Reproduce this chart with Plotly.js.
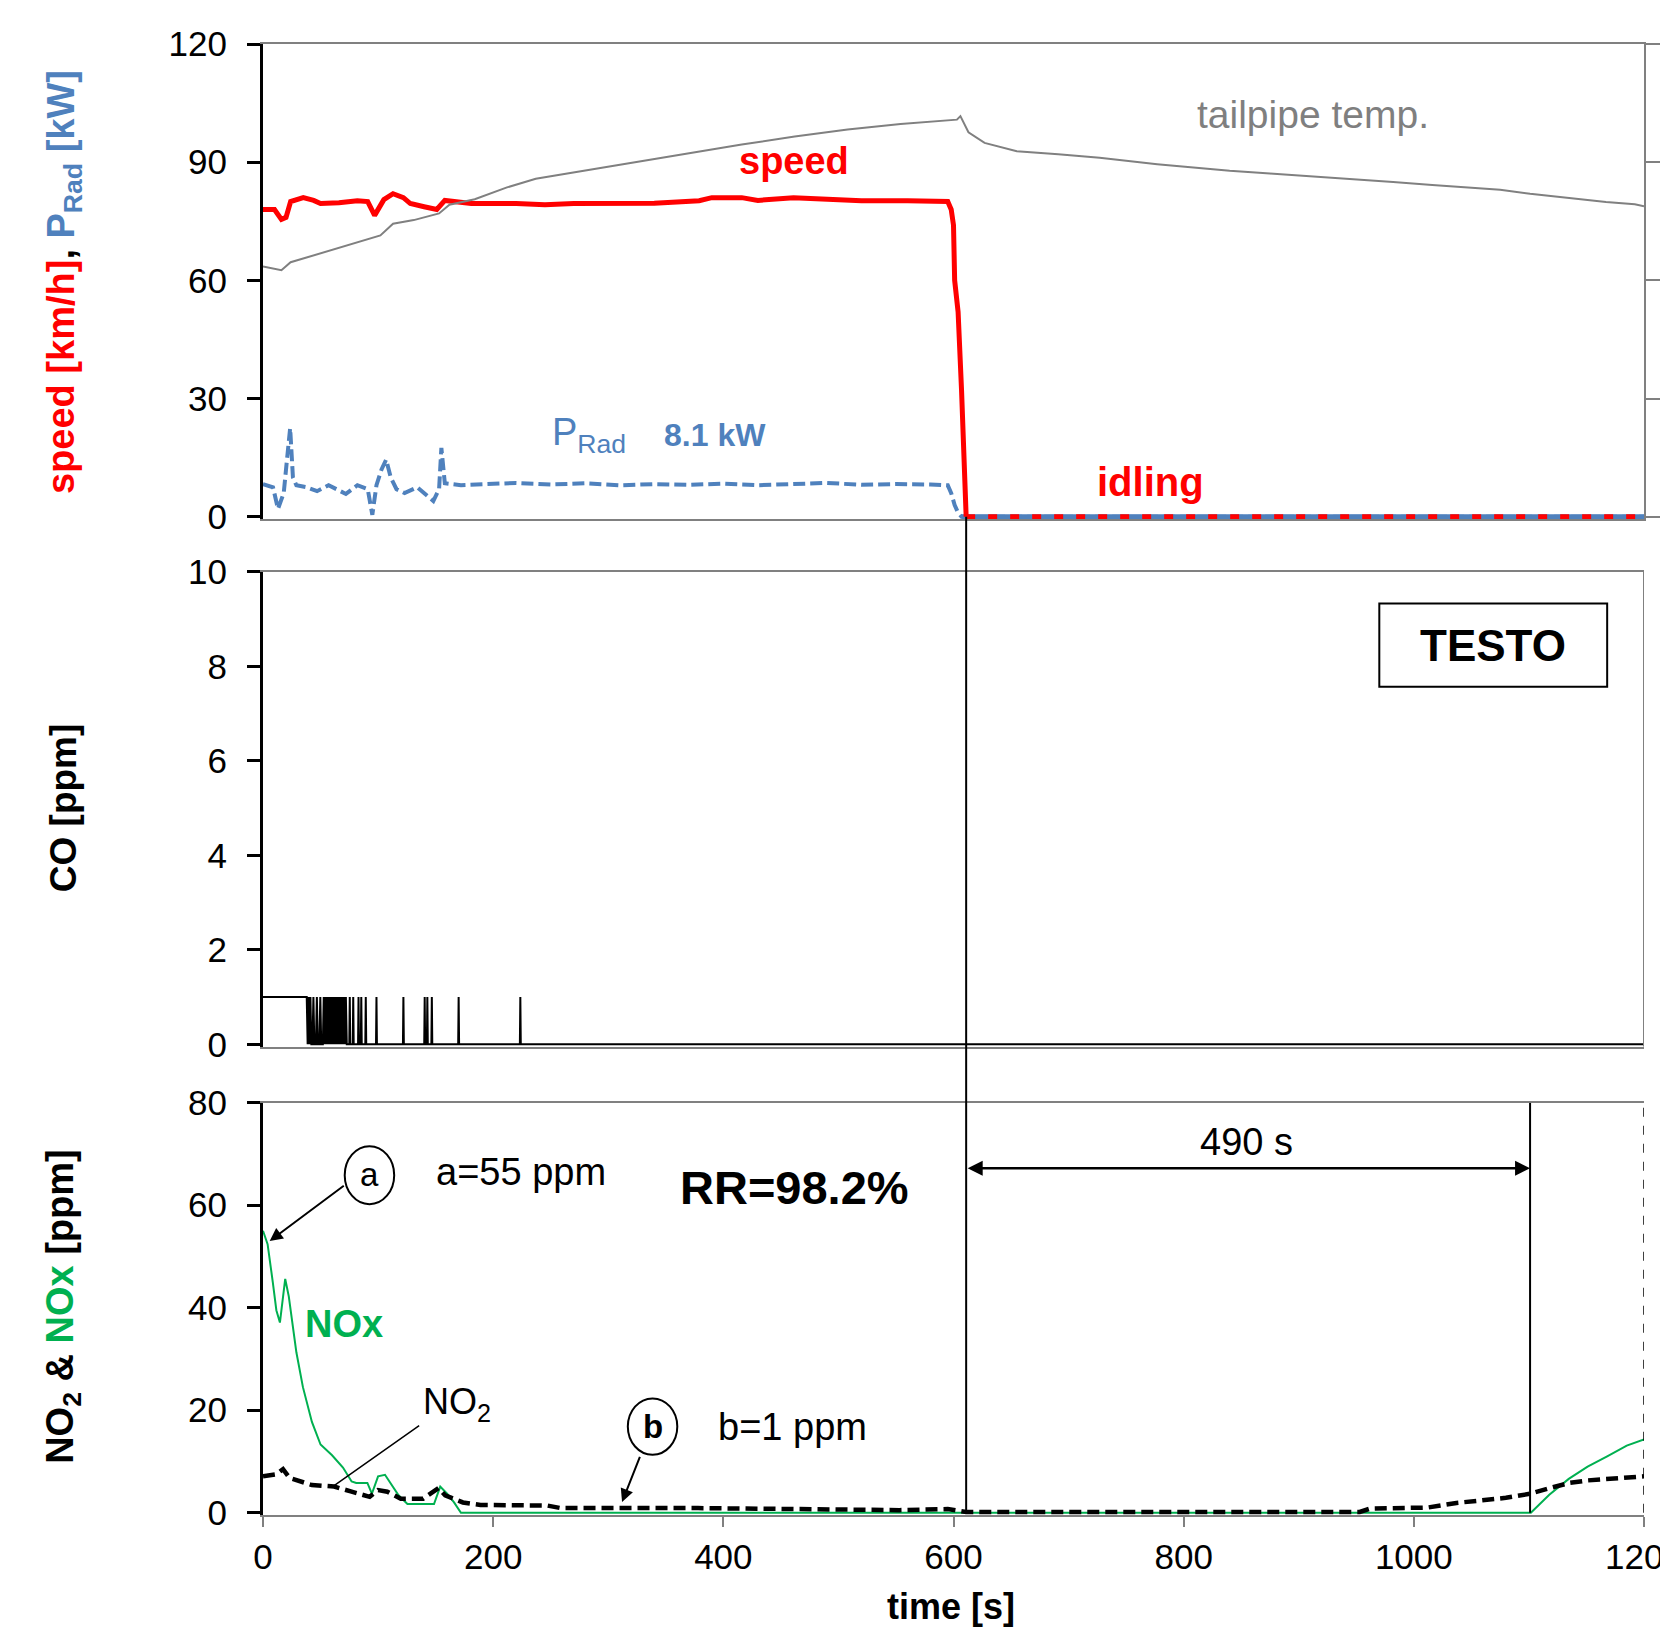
<!DOCTYPE html>
<html>
<head>
<meta charset="utf-8">
<script src="https://cdn.plot.ly/plotly-3.0.1.min.js"></script>
<style>html,body{margin:0;padding:0;background:#fff;}#chart{width:1660px;height:1628px;}</style>
</head>
<body>
<div id="chart"></div>
<script>
// ---- top panel: speed [km/h], PRad [kW], tailpipe temp ----
const speedT = [0,10,16,20,24,35,44,50,66,82,91,97,105,113,122,128,140,151,158,168,181,220,245,270,300,340,379,390,416,430,461,480,520,560,595,598,600,601,604,607,609,611,650,700,800,900,1000,1100,1200];
const speedV = [78,78,75.5,76,80,81,80.3,79.5,79.7,80.2,80,76.5,80.5,82,81,79.5,78.7,78,80.3,80,79.5,79.5,79.2,79.5,79.5,79.6,80.2,81,81,80.3,81,80.8,80.2,80.2,80,78,74,60,52,32,18,0,0,0,0,0,0,0,0];
const pradT = [0,8.7,13,18,21,23.6,26,29,38,47,57,64.5,72,82,91,95,98.6,103,107,111,116,123,134,148,153,155,158,172,190,220,250,280,310,340,370,400,430,460,490,520,550,580,595,598,601,604,607,650,700,800,900,1000,1100,1200];
const pradV = [8.3,7.5,2,6,15,22.5,10,8,7.5,6.5,8,7,5.8,8,7,0.5,8,12,14.5,10,7,6,7.5,4,7,17.5,8.5,8,8.3,8.6,8.2,8.5,8.0,8.3,8.1,8.4,8.0,8.2,8.6,8.1,8.3,8.2,8.0,6,3,1,0,0,0,0,0,0,0,0];
const tempT = [0,16,24,41,66,82,102,113,131,153,162,184,212,237,278,324,370,416,462,508,554,595,603,606,613,627,655,691,727,777,811,840,875,917,951,982,1016,1047,1075,1101,1122,1144,1167,1192,1200];
const tempV = [63.5,62.6,64.6,66.1,68.3,69.6,71.4,74.4,75.3,77,79.2,80.6,83.6,85.8,87.8,90,92.2,94.5,96.5,98.3,99.7,100.5,100.8,101.7,97.6,94.9,92.8,92,91.1,89.5,88.6,87.8,87.1,86.3,85.6,85,84.2,83.6,83,82,81.3,80.6,79.9,79.3,78.8];

// ---- middle panel: CO [ppm] ----
const coT = [0,38,38.8,39.6,40.4,41.2,42,43,43.8,44.6,46,46.8,47.6,49,49.8,50.6,52,52.8,53.6,54.4,55.2,56,56.8,57.6,58.4,59.2,60,60.8,61.6,62.4,63.2,64,64.8,65.6,66.4,67.2,68,68.8,69.6,70.4,71.2,72,72.8,75,75.4,75.8,78,78.4,78.8,82.6,83,83.4,85,85.4,85.8,88.9,89.3,89.7,98.2,98.6,99,121.6,122,122.4,140.1,140.5,140.9,142.4,142.8,143.2,146.3,146.7,147.1,169.6,170,170.4,223.2,223.6,224,1200];
const coV = [1,1,0,1,0,1,0,0,1,0,0,1,0,0,1,0,0,1,0,1,0,1,0,1,0,1,0,1,0,1,0,1,0,1,0,1,0,1,0,1,0,1,0,0,1,0,0,1,0,0,1,0,0,1,0,0,1,0,0,1,0,0,1,0,0,1,0,0,1,0,0,1,0,0,1,0,0,1,0,0];

// ---- bottom panel: NO2 & NOx [ppm] ----
const noxT = [0,4,8.5,11.6,14.7,17.4,19.3,22.4,25,29,34.7,42.5,50,60,69.5,77,81,90.7,94.6,100,106,112,117.8,125.5,148.6,154,160,166,172,1101.7,1117.7,1134.6,1151,1168,1185,1200];
const noxV = [55,52.4,45,39.5,37.1,42.2,45.6,42.2,38.1,31.3,24.5,17.7,13.3,11.2,8.8,6.1,5.8,5.8,3.7,7.1,7.4,5.4,3.4,1.7,1.7,5.1,3.7,2,0,0,3.5,6.6,9,11,13.1,14.3];
const no2T = [0,11.6,17.4,23,42.5,61.8,77,92.7,100,108,119.7,139,152.5,158.3,173.7,189,247,258.7,378,553,595,611,953,962,1012,1037,1080,1101,1118,1135,1151,1185,1200];
const no2V = [7.1,7.5,8.5,6.8,5.4,5.1,4.1,3.1,4.4,4.1,2.7,2.7,4.8,3.4,2,1.5,1.4,0.9,0.9,0.5,0.7,0.15,0.15,0.8,1,1.9,2.9,3.7,4.8,5.8,6.3,7,7.1];

// ---- ticks ----
const xTicks = [0,200,400,600,800,1000,1200];
const xTickText = ['0','200','400','600','800','1000','1200'];
const topTicks = [0,30,60,90,120];
const midTicks = [0,2,4,6,8,10];
const botTicks = [0,20,40,60,80];

// ---- markers in time ----
const idleStart = 611;
const recoveryEnd = 1101;

const RED = '#FF0000', BLUE = '#4F81BD', GREEN = '#00B050', GREY = '#808080';
const FONT = 'Liberation Sans, Arial, sans-serif';

const idleT = speedT.filter(t => t >= idleStart);
const idleV = speedV.filter((v, i) => speedT[i] >= idleStart);
const drvT = speedT.filter(t => t <= idleStart);
const drvV = speedV.filter((v, i) => speedT[i] <= idleStart);
const pradIdleT = pradT.filter(t => t >= 607);
const pradIdleV = pradV.filter((v, i) => pradT[i] >= 607);

const traces = [
  {x: tempT, y: tempV, xaxis: 'x3', yaxis: 'y4', mode: 'lines', line: {color: GREY, width: 2}},
  {x: pradT, y: pradV, xaxis: 'x3', yaxis: 'y3', mode: 'lines', line: {color: BLUE, width: 4, dash: '12px,5px'}},
  {x: pradIdleT, y: pradIdleV, xaxis: 'x3', yaxis: 'y3', mode: 'lines', line: {color: BLUE, width: 5}},
  {x: drvT, y: drvV, xaxis: 'x3', yaxis: 'y3', mode: 'lines', line: {color: RED, width: 5}},
  {x: idleT, y: idleV, xaxis: 'x3', yaxis: 'y3', mode: 'lines', line: {color: RED, width: 5, dash: '9px,13px'}},
  {x: coT, y: coV, xaxis: 'x2', yaxis: 'y2', mode: 'lines', line: {color: '#000', width: 2}},
  {x: noxT, y: noxV, xaxis: 'x', yaxis: 'y', mode: 'lines', line: {color: GREEN, width: 2}},
  {x: no2T, y: no2V, xaxis: 'x', yaxis: 'y', mode: 'lines', line: {color: '#000', width: 4.5, dash: '12px,6px'}}
];

const yBase = {ticks: 'outside', ticklen: 13, tickwidth: 3, tickcolor: '#000', ticklabelstandoff: 13, showline: true, linecolor: '#000', linewidth: 3, showgrid: false, zeroline: false, tickfont: {size: 35, color: '#000', family: FONT}, fixedrange: true};
const xBase = {range: [0, 1200], showline: true, mirror: true, linecolor: GREY, linewidth: 2, showgrid: false, zeroline: false, fixedrange: true};

const layout = {
  width: 1660, height: 1628,
  margin: {l: 263, r: 16, t: 44, b: 113},
  paper_bgcolor: '#fff', plot_bgcolor: '#fff',
  showlegend: false,
  font: {family: FONT, size: 34, color: '#000'},
  xaxis: Object.assign({}, xBase, {anchor: 'y', tickvals: xTicks, ticktext: xTickText, ticks: 'outside', ticklen: 10, tickwidth: 2, tickcolor: GREY, ticklabeloverflow: 'allow', tickfont: {size: 35, color: '#000', family: FONT}}),
  xaxis2: Object.assign({}, xBase, {anchor: 'y2', showticklabels: false, ticks: ''}),
  xaxis3: Object.assign({}, xBase, {anchor: 'y3', showticklabels: false, ticks: ''}),
  yaxis: Object.assign({}, yBase, {domain: [0, 0.2803], range: [-0.45, 80], tickvals: botTicks}),
  yaxis2: Object.assign({}, yBase, {domain: [0.3184, 0.6411], range: [-0.05, 10], tickvals: midTicks}),
  yaxis3: Object.assign({}, yBase, {domain: [0.6770, 1], range: [-0.6, 120], tickvals: topTicks}),
  yaxis4: {overlaying: 'y3', side: 'right', anchor: 'x3', range: [-0.6, 120], tickvals: topTicks, ticks: 'outside', ticklen: 14, tickwidth: 2, tickcolor: GREY, showline: true, linecolor: GREY, linewidth: 2, showticklabels: false, showgrid: false, zeroline: false, fixedrange: true},
  shapes: [
    {type: 'line', xref: 'x', yref: 'paper', x0: idleStart, x1: idleStart, y0: 0.0016, y1: 0.6787, line: {color: '#000', width: 2}},
    {type: 'line', xref: 'x', yref: 'y', x0: recoveryEnd, x1: recoveryEnd, y0: 0, y1: 80, line: {color: '#000', width: 2}},
    {type: 'line', xref: 'x', yref: 'y', x0: 1200, x1: 1200, y0: 0, y1: 80, line: {color: '#000', width: 1.5, dash: 'dash'}},
    {type: 'line', xref: 'x2', yref: 'y2', x0: 1200, x1: 1200, y0: -0.05, y1: 10, line: {color: GREY, width: 2}},
    {type: 'rect', xref: 'x2', yref: 'y2', x0: 970, x1: 1168, y0: 7.57, y1: 9.33, line: {color: '#000', width: 2}, fillcolor: '#fff'},
    {type: 'circle', xref: 'x', yref: 'y', x0: 71, x1: 114, y0: 60.2, y1: 71.5, line: {color: '#000', width: 2}},
    {type: 'circle', xref: 'x', yref: 'y', x0: 317, x1: 360, y0: 11.3, y1: 22.3, line: {color: '#000', width: 2}}
  ],
  annotations: [
    // axis titles
    {xref: 'paper', yref: 'paper', x: -0.1445, y: 0.8385, xanchor: 'center', yanchor: 'middle', textangle: -90, showarrow: false,
     text: "<b><span style='color:#FF0000'>speed [km/h]</span>, <span style='color:#4F81BD'>P<sub>Rad</sub> [kW]</span></b>", font: {size: 38, family: FONT}},
    {xref: 'paper', yref: 'paper', x: -0.1445, y: 0.4808, xanchor: 'center', yanchor: 'middle', textangle: -90, showarrow: false,
     text: '<b>CO [ppm]</b>', font: {size: 37, family: FONT, color: '#000'}},
    {xref: 'paper', yref: 'paper', x: -0.1445, y: 0.1418, xanchor: 'center', yanchor: 'middle', textangle: -90, showarrow: false,
     text: "<b>NO<sub>2</sub> & <span style='color:#00B050'>NOx</span> [ppm]</b>", font: {size: 38, family: FONT, color: '#000'}},
    {xref: 'paper', yref: 'paper', x: 0.498, y: -0.0619, xanchor: 'center', yanchor: 'middle', showarrow: false,
     text: '<b>time [s]</b>', font: {size: 36, family: FONT, color: '#000'}},
    // top panel labels
    {xref: 'x3', yref: 'y3', x: 912, y: 102.2, showarrow: false, text: 'tailpipe temp.', font: {size: 39, color: '#7F7F7F', family: FONT}},
    {xref: 'x3', yref: 'y3', x: 461.6, y: 90.3, showarrow: false, text: '<b>speed</b>', font: {size: 38, color: RED, family: FONT}},
    {xref: 'x3', yref: 'y3', x: 771.5, y: 8.8, showarrow: false, text: '<b>idling</b>', font: {size: 40, color: RED, family: FONT}},
    {xref: 'x3', yref: 'y3', x: 249, y: 20.8, xanchor: 'left', showarrow: false, text: 'P<sub>Rad</sub>', font: {size: 38, color: BLUE, family: FONT}},
    {xref: 'x3', yref: 'y3', x: 393, y: 20.8, showarrow: false, text: '<b>8.1 kW</b>', font: {size: 32, color: BLUE, family: FONT}},
    // middle panel
    {xref: 'x2', yref: 'y2', x: 1069, y: 8.45, showarrow: false, text: '<b>TESTO</b>', font: {size: 44, color: '#000', family: FONT}},
    // bottom panel
    {xref: 'x', yref: 'y', x: 92.5, y: 66, showarrow: false, text: 'a', font: {size: 33, color: '#000', family: FONT}},
    {xref: 'x', yref: 'y', x: 5.8, y: 53, ax: 71.5, ay: 64, axref: 'x', ayref: 'y', showarrow: true, arrowhead: 2, arrowsize: 1.3, arrowwidth: 2, arrowcolor: '#000', standoff: 0, text: ''},
    {xref: 'x', yref: 'y', x: 224, y: 66.5, showarrow: false, text: 'a=55 ppm', font: {size: 38, color: '#000', family: FONT}},
    {xref: 'x', yref: 'y', x: 461.6, y: 63.4, showarrow: false, text: '<b>RR=98.2%</b>', font: {size: 47, color: '#000', family: FONT}},
    {xref: 'x', yref: 'y', x: 70.8, y: 36.9, showarrow: false, text: '<b>NOx</b>', font: {size: 38, color: GREEN, family: FONT}},
    {xref: 'x', yref: 'y', x: 169, y: 21.2, showarrow: false, text: 'NO<sub>2</sub>', font: {size: 36, color: '#000', family: FONT}},
    {xref: 'x', yref: 'y', x: 61.8, y: 5.3, ax: 137, ay: 17.2, axref: 'x', ayref: 'y', showarrow: true, arrowhead: 0, arrowwidth: 1.5, arrowcolor: '#000', standoff: 0, text: ''},
    {xref: 'x', yref: 'y', x: 338.6, y: 16.8, showarrow: false, text: '<b>b</b>', font: {size: 33, color: '#000', family: FONT}},
    {xref: 'x', yref: 'y', x: 312, y: 2.1, ax: 328, ay: 11.2, axref: 'x', ayref: 'y', showarrow: true, arrowhead: 2, arrowsize: 1.3, arrowwidth: 2, arrowcolor: '#000', standoff: 0, text: ''},
    {xref: 'x', yref: 'y', x: 460, y: 16.8, showarrow: false, text: 'b=1 ppm', font: {size: 38, color: '#000', family: FONT}},
    {xref: 'x', yref: 'y', x: recoveryEnd, y: 67.2, ax: idleStart, ay: 67.2, axref: 'x', ayref: 'y', showarrow: true, arrowhead: 2, arrowside: 'end+start', arrowsize: 1.2, arrowwidth: 2.5, arrowcolor: '#000', standoff: 0, startstandoff: 0, text: ''},
    {xref: 'x', yref: 'y', x: 855, y: 72.3, showarrow: false, text: '490 s', font: {size: 38, color: '#000', family: FONT}}
  ]
};

Plotly.newPlot('chart', traces, layout, {displayModeBar: false, staticPlot: true});
</script>
</body>
</html>
